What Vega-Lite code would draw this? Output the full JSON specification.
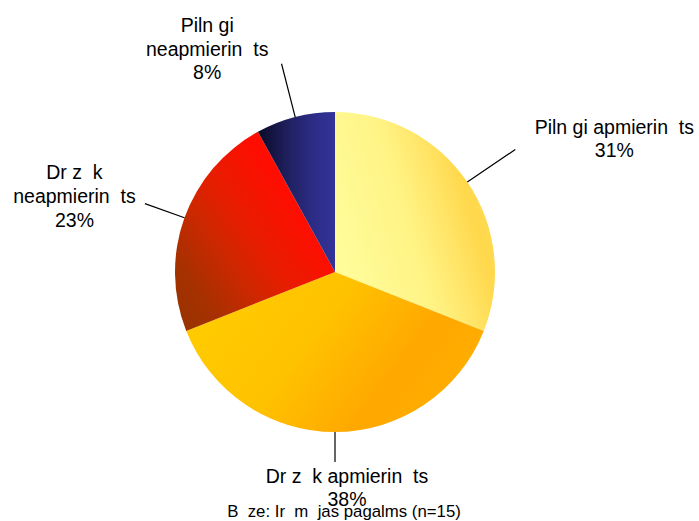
{
  "$schema": "https://vega.github.io/schema/vega-lite/v6.json",
  "width": 670,
  "height": 498,
  "autosize": {"type": "none"},
  "padding": {"left": 0, "top": 23, "right": 29, "bottom": 0},
  "background": "white",
  "config": {"view": {"stroke": null}, "font": "Liberation Sans"},
  "title": {
    "text": "B\u00a0\u00a0ze: Ir\u00a0\u00a0m\u00a0\u00a0jas pagalms (n=15)",
    "orient": "bottom",
    "frame": "group",
    "anchor": "middle",
    "offset": -4,
    "baseline": "alphabetic",
    "dx": 9,
    "fontSize": 16.8,
    "fontWeight": "normal",
    "font": "Liberation Sans",
    "color": "#000000"
  },
  "data": {
    "values": [
      {"cat": "Piln gi apmierin ts", "value": 31, "ord": 1, "label": "Piln\u00a0gi apmierin\u00a0\u00a0ts\n31%"},
      {"cat": "Dr z k apmierin ts", "value": 38, "ord": 2, "label": "Dr\u00a0z\u00a0\u00a0k apmierin\u00a0\u00a0ts\n38%"},
      {"cat": "Dr z k neapmierin ts", "value": 23, "ord": 3, "label": "Dr\u00a0z\u00a0\u00a0k\nneapmierin\u00a0\u00a0ts\n23%"},
      {"cat": "Piln gi neapmierin ts", "value": 8, "ord": 4, "label": "Piln\u00a0gi\nneapmierin\u00a0\u00a0ts\n8%"}
    ]
  },
  "encoding": {
    "theta": {"field": "value", "type": "quantitative", "stack": true},
    "order": {"field": "ord", "type": "quantitative"},
    "detail": {"field": "cat", "type": "nominal"}
  },
  "layer": [
    {
      "mark": {"type": "arc", "outerRadius": 160, "fill": {"gradient": "linear", "x1": 0, "y1": 0.5, "x2": 1, "y2": 0.1, "stops": [{"offset": 0, "color": "#FFFC99"}, {"offset": 0.4, "color": "#FFF384"}, {"offset": 0.6, "color": "#FFE466"}, {"offset": 0.75, "color": "#FFD84C"}, {"offset": 1, "color": "#FFDC55"}]}},
      "encoding": {"opacity": {"condition": {"test": "datum.ord === 1", "value": 1}, "value": 0}}
    },
    {
      "mark": {"type": "arc", "outerRadius": 160, "fill": {"gradient": "linear", "x1": 0, "y1": 0.3, "x2": 1, "y2": 0.7, "stops": [{"offset": 0, "color": "#FFCC00"}, {"offset": 0.4, "color": "#FFC200"}, {"offset": 0.72, "color": "#FFA800"}, {"offset": 1, "color": "#FFAE00"}]}},
      "encoding": {"opacity": {"condition": {"test": "datum.ord === 2", "value": 1}, "value": 0}}
    },
    {
      "mark": {"type": "arc", "outerRadius": 160, "fill": {"gradient": "linear", "x1": 0, "y1": 0.9, "x2": 0.7, "y2": 0.3, "stops": [{"offset": 0, "color": "#993300"}, {"offset": 0.2, "color": "#A83000"}, {"offset": 0.45, "color": "#CC2800"}, {"offset": 0.65, "color": "#E61E00"}, {"offset": 1, "color": "#FF0D00"}]}},
      "encoding": {"opacity": {"condition": {"test": "datum.ord === 3", "value": 1}, "value": 0}}
    },
    {
      "mark": {"type": "arc", "outerRadius": 160, "fill": {"gradient": "linear", "x1": 0, "y1": 0.5, "x2": 1, "y2": 0.5, "stops": [{"offset": 0, "color": "#0A0A28"}, {"offset": 0.35, "color": "#1E1E5A"}, {"offset": 0.7, "color": "#2C2C85"}, {"offset": 1, "color": "#333399"}]}},
      "encoding": {"opacity": {"condition": {"test": "datum.ord === 4", "value": 1}, "value": 0}}
    },
    {
      "mark": {"type": "arc", "padAngle": 3, "innerRadius": 160, "outerRadius": 218, "fillOpacity": 0, "stroke": "#000000", "strokeWidth": 1.2},
      "encoding": {"opacity": {"condition": {"test": "datum.ord === 1", "value": 1}, "value": 0}}
    },
    {
      "mark": {"type": "arc", "padAngle": 3, "innerRadius": 160, "outerRadius": 190, "fillOpacity": 0, "stroke": "#000000", "strokeWidth": 1.2},
      "encoding": {"opacity": {"condition": {"test": "datum.ord === 2", "value": 1}, "value": 0}}
    },
    {
      "mark": {"type": "arc", "padAngle": 3, "innerRadius": 160, "outerRadius": 202, "fillOpacity": 0, "stroke": "#000000", "strokeWidth": 1.2},
      "encoding": {"opacity": {"condition": {"test": "datum.ord === 3", "value": 1}, "value": 0}}
    },
    {
      "mark": {"type": "arc", "padAngle": 3, "innerRadius": 160, "outerRadius": 215, "fillOpacity": 0, "stroke": "#000000", "strokeWidth": 1.2},
      "encoding": {"opacity": {"condition": {"test": "datum.ord === 4", "value": 1}, "value": 0}}
    },
    {
      "mark": {"type": "text", "radius": 160, "dx": 147, "dy": -54, "fontSize": 19.5, "lineHeight": 22.5, "lineBreak": "\n", "align": "center", "baseline": "middle", "font": "Liberation Sans", "color": "#000000"},
      "encoding": {"text": {"condition": {"test": "datum.ord === 1", "field": "label", "type": "nominal"}, "value": ""}}
    },
    {
      "mark": {"type": "text", "radius": 160, "dx": 12, "dy": 45, "fontSize": 19.5, "lineHeight": 22.5, "lineBreak": "\n", "align": "center", "baseline": "middle", "font": "Liberation Sans", "color": "#000000"},
      "encoding": {"text": {"condition": {"test": "datum.ord === 2", "field": "label", "type": "nominal"}, "value": ""}}
    },
    {
      "mark": {"type": "text", "radius": 160, "dx": -110, "dy": -45, "fontSize": 19.5, "lineHeight": 24, "lineBreak": "\n", "align": "center", "baseline": "middle", "font": "Liberation Sans", "color": "#000000"},
      "encoding": {"text": {"condition": {"test": "datum.ord === 3", "field": "label", "type": "nominal"}, "value": ""}}
    },
    {
      "mark": {"type": "text", "radius": 160, "dx": -88, "dy": -91, "fontSize": 19.5, "lineHeight": 23.5, "lineBreak": "\n", "align": "center", "baseline": "middle", "font": "Liberation Sans", "color": "#000000"},
      "encoding": {"text": {"condition": {"test": "datum.ord === 4", "field": "label", "type": "nominal"}, "value": ""}}
    }
  ]
}
